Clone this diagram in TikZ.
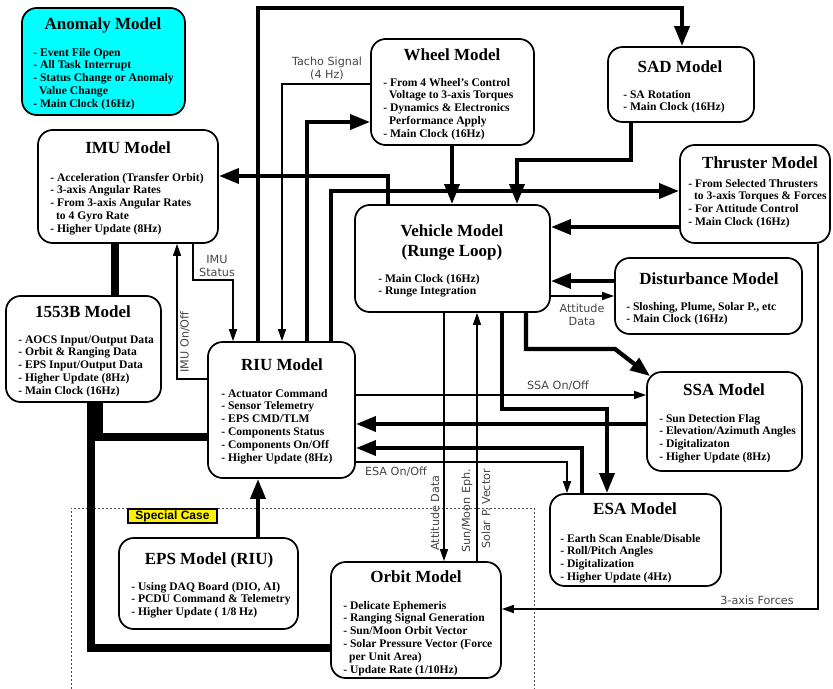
\documentclass[tikz,border=0pt]{standalone}
\usepackage{fontspec}
\setmainfont{Liberation Serif}
\newfontfamily\lsans{DejaVu Sans}
\newfontfamily\lsansb{Liberation Sans}
\usetikzlibrary{arrows.meta,fit,calc}
\definecolor{aquafill}{RGB}{0,255,255}
\definecolor{labgray}{RGB}{70,70,70}
\newcommand\bodytab[1]{\begin{tabular}[t]{@{}l@{}}#1\end{tabular}}
\newcommand\contind{\hspace*{0.5em}}
\tikzset{
  mbox/.style={draw, line width=1.3pt, rounded corners=11pt, inner sep=0pt, fill=white},
  mtitle/.style={font=\bfseries\fontsize{12.75}{15}\selectfont, inner sep=0pt, anchor=base},
  mbody/.style={font=\bfseries\fontsize{8.7}{9.6}\selectfont, inner sep=0pt, anchor=base west},
  lab/.style={font=\lsans\fontsize{8.4}{9.8}\selectfont, text=labgray, inner sep=0pt, align=center},
  thkarrow/.style={line width=3.2pt, -{Triangle[length=15pt,width=11pt]}},
  thnarrow/.style={line width=0.9pt, -{Triangle[length=9pt,width=6pt]}},
  bus/.style={line width=6pt},
}
\begin{document}
\begin{tikzpicture}[x=0.75pt,y=-0.75pt]
\useasboundingbox (0,0) rectangle (833,689);
\fill[white] (0,0) rectangle (833,689);

% special case region
\draw[line width=0.6pt, dash pattern=on 1.5pt off 1.5pt, black!70] (71,689) -- (71,508) -- (534,508) -- (534,689);
\node[draw, fill=yellow, line width=0.8pt, minimum width=66.75pt, minimum height=10.5pt, inner sep=0pt,
      font=\lsansb\bfseries\fontsize{9}{10}\selectfont] (special) at (172.5,516) {Special Case};

% boxes
\node[mbox, fill=aquafill, fit={(22,8) (185,115)}] (anomaly) {};
\node[mbox, fit={(38,130) (218,243)}] (imu) {};
\node[mbox, fit={(6,296) (161,402)}] (bus1553) {};
\node[mbox, fit={(208,342) (355,478)}] (riu) {};
\node[mbox, fit={(371,39) (534,145)}] (wheel) {};
\node[mbox, fit={(608,47) (754,122)}] (sad) {};
\node[mbox, fit={(680,145) (830,243)}] (thruster) {};
\node[mbox, fit={(355,205) (550,312)}] (vehicle) {};
\node[mbox, fit={(615,258) (802,334)}] (dist) {};
\node[mbox, fit={(647,372) (802,471)}] (ssa) {};
\node[mbox, fit={(550,494) (721,586)}] (esa) {};
\node[mbox, fit={(331,562) (501,678)}] (orbit) {};
\node[mbox, fit={(119,538) (298,629)}] (eps) {};

% titles and bodies
\node[mtitle] (anomaly-t) at (103,29) {Anomaly Model};
\node[mbody] (anomaly-b) at (33,56) {\bodytab{- Event File Open\\- All Task Interrupt\\- Status Change or Anomaly\\\contind Value Change\\- Main Clock (16Hz)}};

\node[mtitle] (imu-t) at (128,153) {IMU Model};
\node[mbody] (imu-b) at (50,181) {\bodytab{- Acceleration (Transfer Orbit)\\- 3-axis Angular Rates\\- From 3-axis Angular Rates\\\contind to 4 Gyro Rate\\- Higher Update (8Hz)}};

\node[mtitle] (bus1553-t) at (83,317) {1553B Model};
\node[mbody] (bus1553-b) at (18,343) {\bodytab{- AOCS Input/Output Data\\- Orbit \& Ranging Data\\- EPS Input/Output Data\\- Higher Update (8Hz)\\- Main Clock (16Hz)}};

\node[mtitle] (riu-t) at (282,370) {RIU Model};
\node[mbody] (riu-b) at (221,397) {\bodytab{- Actuator Command\\- Sensor Telemetry\\- EPS CMD/TLM\\- Components Status\\- Components On/Off\\- Higher Update (8Hz)}};

\node[mtitle] (wheel-t) at (452,60) {Wheel Model};
\node[mbody] (wheel-b) at (383,86) {\bodytab{- From 4 Wheel's Control\\\contind Voltage to 3-axis Torques\\- Dynamics \& Electronics\\\contind Performance Apply\\- Main Clock (16Hz)}};

\node[mtitle] (sad-t) at (680,72) {SAD Model};
\node[mbody] (sad-b) at (623,98) {\bodytab{- SA Rotation\\- Main Clock (16Hz)}};

\node[mtitle] (thruster-t) at (760,168) {Thruster Model};
\node[mbody] (thruster-b) at (688,187) {\bodytab{- From Selected Thrusters\\\contind to 3-axis Torques \& Forces\\- For Attitude Control\\- Main Clock (16Hz)}};

\node[mtitle] (vehicle-t) at (452,236) {\begin{tabular}[t]{@{}c@{}}Vehicle Model\\(Runge Loop)\end{tabular}};
\node[mbody] (vehicle-b) at (378,282) {\bodytab{- Main Clock (16Hz)\\- Runge Integration}};

\node[mtitle] (dist-t) at (709,284) {Disturbance Model};
\node[mbody] (dist-b) at (626,310) {\bodytab{- Sloshing, Plume, Solar P., etc\\- Main Clock (16Hz)}};

\node[mtitle] (ssa-t) at (724,395) {SSA Model};
\node[mbody] (ssa-b) at (659,422) {\bodytab{- Sun Detection Flag\\- Elevation/Azimuth Angles\\- Digitalizaton\\- Higher Update (8Hz)}};

\node[mtitle] (esa-t) at (635,514) {ESA Model};
\node[mbody] (esa-b) at (560,542) {\bodytab{- Earth Scan Enable/Disable\\- Roll/Pitch Angles\\- Digitalization\\- Higher Update (4Hz)}};

\node[mtitle] (orbit-t) at (416,582) {Orbit Model};
\node[mbody] (orbit-b) at (343,609) {\bodytab{- Delicate Ephemeris\\- Ranging Signal Generation\\- Sun/Moon Orbit Vector\\- Solar Pressure Vector (Force\\\contind per Unit Area)\\- Update Rate (1/10Hz)}};

\node[mtitle] (eps-t) at (209,564) {EPS Model (RIU)};
\node[mbody] (eps-b) at (131,590) {\bodytab{- Using DAQ Board (DIO, AI)\\- PCDU Command \& Telemetry\\- Higher Update ( 1/8 Hz)}};

% 1553B bus lines
\draw[bus] (imu.south -| 115,0) -- (bus1553.north -| 115,0);
\draw[bus] (bus1553.south -| 99,0) |- (riu.west |- 0,437);
\draw[bus] (bus1553.south -| 91,0) |- (orbit.west |- 0,648);

% thick connectors
\draw[thkarrow] (riu.north -| 258,0) |- (682,8) -- (sad.north -| 682,0);
\draw[thkarrow] (riu.north -| 307,0) |- (wheel.west |- 0,122);
\draw[thkarrow] (vehicle.north -| 388,0) |- (imu.east |- 0,176);
\draw[thkarrow] (riu.north -| 331,0) |- (thruster.west |- 0,191);
\draw[thkarrow] (wheel.south -| 452,0) -- (vehicle.north -| 452,0);
\draw[thkarrow] (sad.south -| 631,0) |- (517,160) -- (vehicle.north -| 517,0);
\draw[thkarrow] (thruster.west |- 0,227) -- (vehicle.east |- 0,227);
\draw[thkarrow] (dist.west |- 0,281) -- (vehicle.east |- 0,281);
\draw[thkarrow] (vehicle.south -| 526,0) |- (615,349) -- ($(ssa.north west)+(4,5)$);
\draw[thkarrow] (vehicle.south -| 502,0) |- (607,409) -- (esa.north -| 607,0);
\draw[thkarrow] (ssa.west |- 0,424) -- (riu.east |- 0,424);
\draw[thkarrow] (esa.north -| 582,0) |- (riu.east |- 0,448);
\draw[thkarrow] (eps.north -| 258,0) -- (riu.south -| 258,0);

% thin connectors
\draw[thnarrow] (wheel.west |- 0,84) -| (riu.north -| 282,0);
\node[lab] (tacho) at (327,68.5) {Tacho Signal\\(4 Hz)};

\draw[thnarrow] (vehicle.east |- 0,296) -- (dist.west |- 0,296);
\node[lab] (attd) at (582,315) {Attitude\\Data};

\draw[thnarrow] (riu.east |- 0,395) -- (ssa.west |- 0,395);
\node[lab] (ssaonoff) at (558,386) {SSA On/Off};

\draw[thnarrow] (riu.east |- 0,462) -| (esa.north -| 567,0);
\node[lab] (esaonoff) at (396,472) {ESA On/Off};

\draw[thnarrow] (vehicle.south -| 444,0) -- (orbit.north -| 444,0);
\node[lab, rotate=90] (attd2) at (435,513) {Attitude Data};

\draw[thnarrow] (orbit.north -| 477,0) -- (vehicle.south -| 477,0);
\node[lab, rotate=90] (sunmoon) at (467,511) {Sun/Moon Eph.};
\node[lab, rotate=90] (solarp) at (486,509) {Solar P. Vector};

\draw[thnarrow] (thruster.south -| 818,0) |- (orbit.east |- 0,609);
\node[lab] (forces) at (757,600) {3-axis Forces};

\draw[thnarrow] (riu.west |- 0,379) -| (imu.south -| 177,0);
\node[lab, rotate=90] (imuonoff) at (185,342) {IMU On/Off};

\draw[thnarrow] (imu.south -| 193,0) |- (233,280) -- (riu.north -| 233,0);
\node[lab] (imustat) at (217,266) {IMU\\Status};
\end{tikzpicture}
\end{document}
